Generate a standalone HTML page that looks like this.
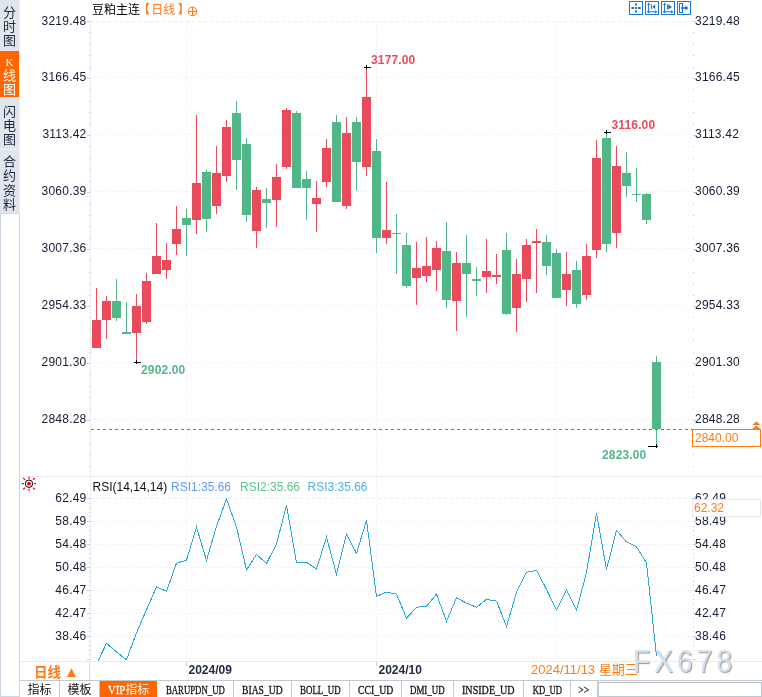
<!DOCTYPE html>
<html lang="zh-CN"><head><meta charset="utf-8"><title>豆粕主连 日线</title>
<style>
html,body{margin:0;padding:0;background:#fff}
body{width:762px;height:697px;overflow:hidden;position:relative;font-family:"Liberation Sans","Noto Sans CJK SC",sans-serif;font-size:12px;color:#151d36}
#c{position:absolute;left:0;top:0;width:762px;height:697px;overflow:hidden;background:#fff}
svg.g{position:absolute;left:0;top:0}
.t{position:absolute;height:16px;line-height:16px;white-space:nowrap;font-size:12px}
.ax{color:#151d36;letter-spacing:.22px}
.b{font-weight:bold}
.side{position:absolute;left:0;top:0;width:19px;height:213px;background:#e1e5ec;border-right:1px solid #eceff4}
.side div{position:absolute;left:0;width:19px;text-align:center;font-family:"Liberation Serif","Noto Sans CJK SC",sans-serif;font-size:13px;line-height:14.2px;color:#1c2a3e}
.side p{position:absolute;left:0;width:19px;margin:0}
.side .on{background:#ff6600;color:#fff}
.sidebox{position:absolute;left:0;top:213px;width:18px;height:482px;border:1px solid #cfd9e3;background:#fff;box-sizing:content-box}
.tabs{position:absolute;left:20px;top:680px;width:742px;height:16px;border-top:1px solid #c4c9cf;background:#fff;font-family:"Liberation Serif","Noto Sans CJK SC",serif}
.tabs div{position:absolute;top:0;height:16px;line-height:16px;display:flex;justify-content:center;align-items:center;border-right:1px solid #c4c9cf;box-sizing:border-box;font-size:12px;color:#111;white-space:nowrap;padding-top:2px}
.tabs .la{display:inline-block;font-size:12px;transform:scaleX(.75);-webkit-text-stroke:.3px currentColor}
.tabs .on{background:#ff6600;color:#fff;border-right:none}
</style></head><body><div id="c">
<div class="side">
<div style="top:0;height:51px"><p style="top:5.5px">分<br>时<br>图</p></div>
<div class="on" style="top:51px;height:46px"><p style="top:3.9px;line-height:13.6px"><span style="font-size:11px">K</span><br>线<br>图</p></div>
<div style="top:97px;height:52px"><p style="top:7.5px">闪<br>电<br>图</p></div>
<div style="top:149px;height:64px;border-top:1px solid #f0f2f6;box-sizing:border-box"><p style="top:5.2px">合<br>约<br>资<br>料</p></div>
</div>
<div class="sidebox"></div>
<svg class="g" width="762" height="697" viewBox="0 0 762 697" shape-rendering="crispEdges">
<line x1="90" y1="21.5" x2="693" y2="21.5" stroke="#e7ecf2" stroke-dasharray="3 3"/>
<line x1="91" y1="77.5" x2="693" y2="77.5" stroke="#e7ecf2" stroke-dasharray="1 2"/>
<line x1="91" y1="134.5" x2="693" y2="134.5" stroke="#e7ecf2" stroke-dasharray="1 2"/>
<line x1="91" y1="191.5" x2="693" y2="191.5" stroke="#e7ecf2" stroke-dasharray="1 2"/>
<line x1="91" y1="248.5" x2="693" y2="248.5" stroke="#e7ecf2" stroke-dasharray="1 2"/>
<line x1="91" y1="305.5" x2="693" y2="305.5" stroke="#e7ecf2" stroke-dasharray="1 2"/>
<line x1="91" y1="362.5" x2="693" y2="362.5" stroke="#e7ecf2" stroke-dasharray="1 2"/>
<line x1="91" y1="419.5" x2="693" y2="419.5" stroke="#e7ecf2" stroke-dasharray="1 2"/>
<line x1="186.5" y1="22" x2="186.5" y2="476" stroke="#e7ecf2" stroke-dasharray="1 2"/>
<line x1="186.5" y1="478" x2="186.5" y2="661" stroke="#e7ecf2" stroke-dasharray="1 2"/>
<line x1="186.5" y1="661" x2="186.5" y2="666" stroke="#c9d3dd"/>
<line x1="376.5" y1="22" x2="376.5" y2="476" stroke="#e7ecf2" stroke-dasharray="1 2"/>
<line x1="376.5" y1="478" x2="376.5" y2="661" stroke="#e7ecf2" stroke-dasharray="1 2"/>
<line x1="376.5" y1="661" x2="376.5" y2="666" stroke="#c9d3dd"/>
<line x1="556.5" y1="22" x2="556.5" y2="476" stroke="#e7ecf2" stroke-dasharray="1 2"/>
<line x1="556.5" y1="478" x2="556.5" y2="661" stroke="#e7ecf2" stroke-dasharray="1 2"/>
<line x1="556.5" y1="661" x2="556.5" y2="666" stroke="#c9d3dd"/>
<line x1="90" y1="498.5" x2="693" y2="498.5" stroke="#e7ecf2" stroke-dasharray="3 3"/>
<line x1="91" y1="521.5" x2="693" y2="521.5" stroke="#e7ecf2" stroke-dasharray="1 2"/>
<line x1="91" y1="544.5" x2="693" y2="544.5" stroke="#e7ecf2" stroke-dasharray="1 2"/>
<line x1="91" y1="567.5" x2="693" y2="567.5" stroke="#e7ecf2" stroke-dasharray="1 2"/>
<line x1="91" y1="590.5" x2="693" y2="590.5" stroke="#e7ecf2" stroke-dasharray="1 2"/>
<line x1="91" y1="613.5" x2="693" y2="613.5" stroke="#e7ecf2" stroke-dasharray="1 2"/>
<line x1="91" y1="636.5" x2="693" y2="636.5" stroke="#e7ecf2" stroke-dasharray="1 2"/>
<line x1="90.5" y1="21" x2="90.5" y2="661" stroke="#e6ecf3"/>
<rect x="87" y="21" width="3" height="1" fill="#c6ced9"/>
<rect x="89" y="32" width="1" height="1" fill="#bfc8d4"/>
<rect x="89" y="44" width="1" height="1" fill="#bfc8d4"/>
<rect x="89" y="55" width="1" height="1" fill="#bfc8d4"/>
<rect x="89" y="67" width="1" height="1" fill="#bfc8d4"/>
<rect x="87" y="78" width="3" height="1" fill="#c6ced9"/>
<rect x="89" y="89" width="1" height="1" fill="#bfc8d4"/>
<rect x="89" y="101" width="1" height="1" fill="#bfc8d4"/>
<rect x="89" y="112" width="1" height="1" fill="#bfc8d4"/>
<rect x="89" y="124" width="1" height="1" fill="#bfc8d4"/>
<rect x="87" y="135" width="3" height="1" fill="#c6ced9"/>
<rect x="89" y="146" width="1" height="1" fill="#bfc8d4"/>
<rect x="89" y="158" width="1" height="1" fill="#bfc8d4"/>
<rect x="89" y="169" width="1" height="1" fill="#bfc8d4"/>
<rect x="89" y="181" width="1" height="1" fill="#bfc8d4"/>
<rect x="87" y="192" width="3" height="1" fill="#c6ced9"/>
<rect x="89" y="203" width="1" height="1" fill="#bfc8d4"/>
<rect x="89" y="215" width="1" height="1" fill="#bfc8d4"/>
<rect x="89" y="226" width="1" height="1" fill="#bfc8d4"/>
<rect x="89" y="238" width="1" height="1" fill="#bfc8d4"/>
<rect x="87" y="249" width="3" height="1" fill="#c6ced9"/>
<rect x="89" y="260" width="1" height="1" fill="#bfc8d4"/>
<rect x="89" y="272" width="1" height="1" fill="#bfc8d4"/>
<rect x="89" y="283" width="1" height="1" fill="#bfc8d4"/>
<rect x="89" y="295" width="1" height="1" fill="#bfc8d4"/>
<rect x="87" y="306" width="3" height="1" fill="#c6ced9"/>
<rect x="89" y="317" width="1" height="1" fill="#bfc8d4"/>
<rect x="89" y="329" width="1" height="1" fill="#bfc8d4"/>
<rect x="89" y="340" width="1" height="1" fill="#bfc8d4"/>
<rect x="89" y="352" width="1" height="1" fill="#bfc8d4"/>
<rect x="87" y="363" width="3" height="1" fill="#c6ced9"/>
<rect x="89" y="374" width="1" height="1" fill="#bfc8d4"/>
<rect x="89" y="386" width="1" height="1" fill="#bfc8d4"/>
<rect x="89" y="397" width="1" height="1" fill="#bfc8d4"/>
<rect x="89" y="409" width="1" height="1" fill="#bfc8d4"/>
<rect x="87" y="420" width="3" height="1" fill="#c6ced9"/>
<rect x="89" y="431" width="1" height="1" fill="#bfc8d4"/>
<rect x="89" y="443" width="1" height="1" fill="#bfc8d4"/>
<rect x="89" y="454" width="1" height="1" fill="#bfc8d4"/>
<rect x="89" y="466" width="1" height="1" fill="#bfc8d4"/>
<rect x="693" y="21" width="3" height="1" fill="#c6ced9"/>
<rect x="693" y="32" width="1" height="1" fill="#bfc8d4"/>
<rect x="693" y="44" width="1" height="1" fill="#bfc8d4"/>
<rect x="693" y="55" width="1" height="1" fill="#bfc8d4"/>
<rect x="693" y="67" width="1" height="1" fill="#bfc8d4"/>
<rect x="693" y="78" width="3" height="1" fill="#c6ced9"/>
<rect x="693" y="89" width="1" height="1" fill="#bfc8d4"/>
<rect x="693" y="101" width="1" height="1" fill="#bfc8d4"/>
<rect x="693" y="112" width="1" height="1" fill="#bfc8d4"/>
<rect x="693" y="124" width="1" height="1" fill="#bfc8d4"/>
<rect x="693" y="135" width="3" height="1" fill="#c6ced9"/>
<rect x="693" y="146" width="1" height="1" fill="#bfc8d4"/>
<rect x="693" y="158" width="1" height="1" fill="#bfc8d4"/>
<rect x="693" y="169" width="1" height="1" fill="#bfc8d4"/>
<rect x="693" y="181" width="1" height="1" fill="#bfc8d4"/>
<rect x="693" y="192" width="3" height="1" fill="#c6ced9"/>
<rect x="693" y="203" width="1" height="1" fill="#bfc8d4"/>
<rect x="693" y="215" width="1" height="1" fill="#bfc8d4"/>
<rect x="693" y="226" width="1" height="1" fill="#bfc8d4"/>
<rect x="693" y="238" width="1" height="1" fill="#bfc8d4"/>
<rect x="693" y="249" width="3" height="1" fill="#c6ced9"/>
<rect x="693" y="260" width="1" height="1" fill="#bfc8d4"/>
<rect x="693" y="272" width="1" height="1" fill="#bfc8d4"/>
<rect x="693" y="283" width="1" height="1" fill="#bfc8d4"/>
<rect x="693" y="295" width="1" height="1" fill="#bfc8d4"/>
<rect x="693" y="306" width="3" height="1" fill="#c6ced9"/>
<rect x="693" y="317" width="1" height="1" fill="#bfc8d4"/>
<rect x="693" y="329" width="1" height="1" fill="#bfc8d4"/>
<rect x="693" y="340" width="1" height="1" fill="#bfc8d4"/>
<rect x="693" y="352" width="1" height="1" fill="#bfc8d4"/>
<rect x="693" y="363" width="3" height="1" fill="#c6ced9"/>
<rect x="693" y="374" width="1" height="1" fill="#bfc8d4"/>
<rect x="693" y="386" width="1" height="1" fill="#bfc8d4"/>
<rect x="693" y="397" width="1" height="1" fill="#bfc8d4"/>
<rect x="693" y="409" width="1" height="1" fill="#bfc8d4"/>
<rect x="693" y="420" width="3" height="1" fill="#c6ced9"/>
<rect x="693" y="431" width="1" height="1" fill="#bfc8d4"/>
<rect x="693" y="443" width="1" height="1" fill="#bfc8d4"/>
<rect x="693" y="454" width="1" height="1" fill="#bfc8d4"/>
<rect x="693" y="466" width="1" height="1" fill="#bfc8d4"/>
<rect x="87" y="498" width="3" height="1" fill="#c6ced9"/>
<rect x="89" y="503" width="1" height="1" fill="#bfc8d4"/>
<rect x="89" y="507" width="1" height="1" fill="#bfc8d4"/>
<rect x="89" y="512" width="1" height="1" fill="#bfc8d4"/>
<rect x="89" y="516" width="1" height="1" fill="#bfc8d4"/>
<rect x="87" y="521" width="3" height="1" fill="#c6ced9"/>
<rect x="89" y="526" width="1" height="1" fill="#bfc8d4"/>
<rect x="89" y="530" width="1" height="1" fill="#bfc8d4"/>
<rect x="89" y="535" width="1" height="1" fill="#bfc8d4"/>
<rect x="89" y="539" width="1" height="1" fill="#bfc8d4"/>
<rect x="87" y="544" width="3" height="1" fill="#c6ced9"/>
<rect x="89" y="549" width="1" height="1" fill="#bfc8d4"/>
<rect x="89" y="553" width="1" height="1" fill="#bfc8d4"/>
<rect x="89" y="558" width="1" height="1" fill="#bfc8d4"/>
<rect x="89" y="562" width="1" height="1" fill="#bfc8d4"/>
<rect x="87" y="567" width="3" height="1" fill="#c6ced9"/>
<rect x="89" y="572" width="1" height="1" fill="#bfc8d4"/>
<rect x="89" y="576" width="1" height="1" fill="#bfc8d4"/>
<rect x="89" y="581" width="1" height="1" fill="#bfc8d4"/>
<rect x="89" y="585" width="1" height="1" fill="#bfc8d4"/>
<rect x="87" y="590" width="3" height="1" fill="#c6ced9"/>
<rect x="89" y="595" width="1" height="1" fill="#bfc8d4"/>
<rect x="89" y="599" width="1" height="1" fill="#bfc8d4"/>
<rect x="89" y="604" width="1" height="1" fill="#bfc8d4"/>
<rect x="89" y="608" width="1" height="1" fill="#bfc8d4"/>
<rect x="87" y="613" width="3" height="1" fill="#c6ced9"/>
<rect x="89" y="618" width="1" height="1" fill="#bfc8d4"/>
<rect x="89" y="622" width="1" height="1" fill="#bfc8d4"/>
<rect x="89" y="627" width="1" height="1" fill="#bfc8d4"/>
<rect x="89" y="631" width="1" height="1" fill="#bfc8d4"/>
<rect x="87" y="636" width="3" height="1" fill="#c6ced9"/>
<rect x="89" y="641" width="1" height="1" fill="#bfc8d4"/>
<rect x="89" y="645" width="1" height="1" fill="#bfc8d4"/>
<rect x="89" y="650" width="1" height="1" fill="#bfc8d4"/>
<rect x="89" y="654" width="1" height="1" fill="#bfc8d4"/>
<rect x="87" y="659" width="3" height="1" fill="#c6ced9"/>
<rect x="693" y="498" width="3" height="1" fill="#c6ced9"/>
<rect x="693" y="503" width="1" height="1" fill="#bfc8d4"/>
<rect x="693" y="507" width="1" height="1" fill="#bfc8d4"/>
<rect x="693" y="512" width="1" height="1" fill="#bfc8d4"/>
<rect x="693" y="516" width="1" height="1" fill="#bfc8d4"/>
<rect x="693" y="521" width="3" height="1" fill="#c6ced9"/>
<rect x="693" y="526" width="1" height="1" fill="#bfc8d4"/>
<rect x="693" y="530" width="1" height="1" fill="#bfc8d4"/>
<rect x="693" y="535" width="1" height="1" fill="#bfc8d4"/>
<rect x="693" y="539" width="1" height="1" fill="#bfc8d4"/>
<rect x="693" y="544" width="3" height="1" fill="#c6ced9"/>
<rect x="693" y="549" width="1" height="1" fill="#bfc8d4"/>
<rect x="693" y="553" width="1" height="1" fill="#bfc8d4"/>
<rect x="693" y="558" width="1" height="1" fill="#bfc8d4"/>
<rect x="693" y="562" width="1" height="1" fill="#bfc8d4"/>
<rect x="693" y="567" width="3" height="1" fill="#c6ced9"/>
<rect x="693" y="572" width="1" height="1" fill="#bfc8d4"/>
<rect x="693" y="576" width="1" height="1" fill="#bfc8d4"/>
<rect x="693" y="581" width="1" height="1" fill="#bfc8d4"/>
<rect x="693" y="585" width="1" height="1" fill="#bfc8d4"/>
<rect x="693" y="590" width="3" height="1" fill="#c6ced9"/>
<rect x="693" y="595" width="1" height="1" fill="#bfc8d4"/>
<rect x="693" y="599" width="1" height="1" fill="#bfc8d4"/>
<rect x="693" y="604" width="1" height="1" fill="#bfc8d4"/>
<rect x="693" y="608" width="1" height="1" fill="#bfc8d4"/>
<rect x="693" y="613" width="3" height="1" fill="#c6ced9"/>
<rect x="693" y="618" width="1" height="1" fill="#bfc8d4"/>
<rect x="693" y="622" width="1" height="1" fill="#bfc8d4"/>
<rect x="693" y="627" width="1" height="1" fill="#bfc8d4"/>
<rect x="693" y="631" width="1" height="1" fill="#bfc8d4"/>
<rect x="693" y="636" width="3" height="1" fill="#c6ced9"/>
<rect x="693" y="641" width="1" height="1" fill="#bfc8d4"/>
<rect x="693" y="645" width="1" height="1" fill="#bfc8d4"/>
<rect x="693" y="650" width="1" height="1" fill="#bfc8d4"/>
<rect x="693" y="654" width="1" height="1" fill="#bfc8d4"/>
<rect x="693" y="659" width="3" height="1" fill="#c6ced9"/>
<rect x="20" y="476" width="742" height="1" fill="#e4ebf1"/>
<rect x="20" y="661" width="742" height="1" fill="#e4ebf1"/>
<rect x="96" y="288" width="1" height="60" fill="#ea4b5c"/>
<rect x="92" y="320" width="9" height="28" fill="#ea4b5c"/>
<rect x="106" y="296" width="1" height="43" fill="#ea4b5c"/>
<rect x="102" y="301" width="9" height="19" fill="#ea4b5c"/>
<rect x="116" y="279" width="1" height="42" fill="#52b788"/>
<rect x="112" y="301" width="9" height="17" fill="#52b788"/>
<rect x="126" y="302" width="1" height="32" fill="#52b788"/>
<rect x="122" y="332" width="9" height="2" fill="#52b788"/>
<rect x="136" y="294" width="1" height="68" fill="#ea4b5c"/>
<rect x="132" y="306" width="9" height="27" fill="#ea4b5c"/>
<rect x="146" y="273" width="1" height="51" fill="#ea4b5c"/>
<rect x="142" y="281" width="9" height="41" fill="#ea4b5c"/>
<rect x="156" y="223" width="1" height="51" fill="#ea4b5c"/>
<rect x="152" y="256" width="9" height="18" fill="#ea4b5c"/>
<rect x="166" y="243" width="1" height="36" fill="#ea4b5c"/>
<rect x="162" y="260" width="9" height="10" fill="#ea4b5c"/>
<rect x="176" y="206" width="1" height="49" fill="#ea4b5c"/>
<rect x="172" y="229" width="9" height="15" fill="#ea4b5c"/>
<rect x="186" y="209" width="1" height="47" fill="#52b788"/>
<rect x="182" y="218" width="9" height="7" fill="#52b788"/>
<rect x="196" y="115" width="1" height="119" fill="#ea4b5c"/>
<rect x="192" y="183" width="9" height="37" fill="#ea4b5c"/>
<rect x="206" y="170" width="1" height="62" fill="#52b788"/>
<rect x="202" y="172" width="9" height="47" fill="#52b788"/>
<rect x="216" y="146" width="1" height="68" fill="#ea4b5c"/>
<rect x="212" y="173" width="9" height="33" fill="#ea4b5c"/>
<rect x="226" y="120" width="1" height="62" fill="#ea4b5c"/>
<rect x="222" y="127" width="9" height="49" fill="#ea4b5c"/>
<rect x="236" y="101" width="1" height="89" fill="#52b788"/>
<rect x="232" y="113" width="9" height="47" fill="#52b788"/>
<rect x="246" y="138" width="1" height="84" fill="#52b788"/>
<rect x="242" y="144" width="9" height="71" fill="#52b788"/>
<rect x="256" y="187" width="1" height="61" fill="#ea4b5c"/>
<rect x="252" y="190" width="9" height="41" fill="#ea4b5c"/>
<rect x="266" y="188" width="1" height="40" fill="#52b788"/>
<rect x="262" y="199" width="9" height="4" fill="#52b788"/>
<rect x="276" y="164" width="1" height="63" fill="#ea4b5c"/>
<rect x="272" y="177" width="9" height="23" fill="#ea4b5c"/>
<rect x="286" y="108" width="1" height="61" fill="#ea4b5c"/>
<rect x="282" y="110" width="9" height="57" fill="#ea4b5c"/>
<rect x="296" y="111" width="1" height="77" fill="#52b788"/>
<rect x="292" y="113" width="9" height="75" fill="#52b788"/>
<rect x="306" y="171" width="1" height="49" fill="#52b788"/>
<rect x="302" y="179" width="9" height="9" fill="#52b788"/>
<rect x="316" y="181" width="1" height="51" fill="#ea4b5c"/>
<rect x="312" y="198" width="9" height="6" fill="#ea4b5c"/>
<rect x="326" y="139" width="1" height="48" fill="#ea4b5c"/>
<rect x="322" y="148" width="9" height="34" fill="#ea4b5c"/>
<rect x="336" y="115" width="1" height="87" fill="#52b788"/>
<rect x="332" y="122" width="9" height="80" fill="#52b788"/>
<rect x="346" y="117" width="1" height="92" fill="#ea4b5c"/>
<rect x="342" y="133" width="9" height="73" fill="#ea4b5c"/>
<rect x="356" y="117" width="1" height="74" fill="#52b788"/>
<rect x="352" y="122" width="9" height="40" fill="#52b788"/>
<rect x="366" y="68" width="1" height="108" fill="#ea4b5c"/>
<rect x="362" y="97" width="9" height="70" fill="#ea4b5c"/>
<rect x="376" y="139" width="1" height="114" fill="#52b788"/>
<rect x="372" y="151" width="9" height="87" fill="#52b788"/>
<rect x="386" y="182" width="1" height="62" fill="#ea4b5c"/>
<rect x="382" y="230" width="9" height="8" fill="#ea4b5c"/>
<rect x="396" y="214" width="1" height="60" fill="#52b788"/>
<rect x="392" y="233" width="9" height="1" fill="#52b788"/>
<rect x="406" y="233" width="1" height="55" fill="#52b788"/>
<rect x="402" y="245" width="9" height="41" fill="#52b788"/>
<rect x="416" y="242" width="1" height="63" fill="#ea4b5c"/>
<rect x="412" y="268" width="9" height="10" fill="#ea4b5c"/>
<rect x="426" y="237" width="1" height="45" fill="#ea4b5c"/>
<rect x="422" y="266" width="9" height="10" fill="#ea4b5c"/>
<rect x="436" y="241" width="1" height="50" fill="#ea4b5c"/>
<rect x="432" y="248" width="9" height="22" fill="#ea4b5c"/>
<rect x="446" y="222" width="1" height="86" fill="#52b788"/>
<rect x="442" y="251" width="9" height="49" fill="#52b788"/>
<rect x="456" y="252" width="1" height="79" fill="#ea4b5c"/>
<rect x="452" y="263" width="9" height="38" fill="#ea4b5c"/>
<rect x="466" y="235" width="1" height="82" fill="#52b788"/>
<rect x="462" y="263" width="9" height="11" fill="#52b788"/>
<rect x="476" y="267" width="1" height="29" fill="#52b788"/>
<rect x="472" y="279" width="9" height="2" fill="#52b788"/>
<rect x="486" y="239" width="1" height="54" fill="#ea4b5c"/>
<rect x="482" y="271" width="9" height="6" fill="#ea4b5c"/>
<rect x="496" y="254" width="1" height="30" fill="#ea4b5c"/>
<rect x="492" y="275" width="9" height="2" fill="#ea4b5c"/>
<rect x="506" y="233" width="1" height="82" fill="#52b788"/>
<rect x="502" y="250" width="9" height="64" fill="#52b788"/>
<rect x="516" y="259" width="1" height="73" fill="#ea4b5c"/>
<rect x="512" y="274" width="9" height="34" fill="#ea4b5c"/>
<rect x="526" y="239" width="1" height="63" fill="#ea4b5c"/>
<rect x="522" y="245" width="9" height="34" fill="#ea4b5c"/>
<rect x="536" y="229" width="1" height="64" fill="#ea4b5c"/>
<rect x="532" y="241" width="9" height="2" fill="#ea4b5c"/>
<rect x="546" y="235" width="1" height="40" fill="#52b788"/>
<rect x="542" y="242" width="9" height="24" fill="#52b788"/>
<rect x="556" y="249" width="1" height="49" fill="#52b788"/>
<rect x="552" y="253" width="9" height="45" fill="#52b788"/>
<rect x="566" y="252" width="1" height="54" fill="#ea4b5c"/>
<rect x="562" y="274" width="9" height="16" fill="#ea4b5c"/>
<rect x="576" y="261" width="1" height="47" fill="#52b788"/>
<rect x="572" y="270" width="9" height="34" fill="#52b788"/>
<rect x="586" y="244" width="1" height="56" fill="#ea4b5c"/>
<rect x="582" y="256" width="9" height="39" fill="#ea4b5c"/>
<rect x="596" y="140" width="1" height="118" fill="#ea4b5c"/>
<rect x="592" y="158" width="9" height="92" fill="#ea4b5c"/>
<rect x="606" y="133" width="1" height="119" fill="#52b788"/>
<rect x="602" y="138" width="9" height="106" fill="#52b788"/>
<rect x="616" y="146" width="1" height="102" fill="#ea4b5c"/>
<rect x="612" y="166" width="9" height="67" fill="#ea4b5c"/>
<rect x="626" y="152" width="1" height="45" fill="#52b788"/>
<rect x="622" y="173" width="9" height="13" fill="#52b788"/>
<rect x="636" y="168" width="1" height="34" fill="#52b788"/>
<rect x="632" y="194" width="9" height="1" fill="#52b788"/>
<rect x="646" y="193" width="1" height="31" fill="#52b788"/>
<rect x="642" y="194" width="9" height="26" fill="#52b788"/>
<rect x="656" y="356" width="1" height="91" fill="#52b788"/>
<rect x="652" y="362" width="9" height="67" fill="#52b788"/>
<line x1="91" y1="429.5" x2="693" y2="429.5" stroke="#1a8cff" stroke-dasharray="3 3"/>
<rect x="364" y="67" width="7" height="1" fill="#000"/>
<rect x="366" y="65" width="1" height="4" fill="#000"/>
<rect x="604" y="132" width="7" height="1" fill="#000"/>
<rect x="606" y="130" width="1" height="4" fill="#000"/>
<rect x="134" y="362" width="7" height="1" fill="#000"/>
<rect x="136" y="360" width="1" height="4" fill="#000"/>
<rect x="648" y="446" width="10" height="1" fill="#000"/>
<rect x="656" y="444" width="1" height="4" fill="#000"/>
<clipPath id="rc"><rect x="91" y="478" width="602" height="183"/></clipPath>
<polyline clip-path="url(#rc)" points="96.5,664.0 106.5,643.3 116.5,652.0 126.5,659.8 136.5,632.8 146.5,609.8 156.5,586.8 166.5,591.4 176.5,563.2 186.5,560.2 196.5,527.2 206.5,560.4 216.5,526.2 226.5,499.2 236.5,527.0 246.5,569.9 256.5,554.4 266.5,563.4 276.5,544.1 286.5,505.4 296.5,562.4 306.5,562.4 316.5,569.1 326.5,537.1 336.5,574.3 346.5,534.4 356.5,553.4 366.5,520.4 376.5,596.3 386.5,592.1 396.5,594.1 406.5,618.3 416.5,607.3 426.5,606.3 436.5,594.1 446.5,621.3 456.5,597.8 466.5,603.1 476.5,607.3 486.5,599.3 496.5,601.1 506.5,626.5 516.5,592.3 526.5,572.3 536.5,570.3 546.5,589.3 556.5,610.3 566.5,590.3 576.5,610.3 586.5,572.3 596.5,513.4 606.5,569.4 616.5,530.4 626.5,541.9 636.5,546.9 646.5,562.9 656.5,656.0" fill="none" stroke="#29a8e0" stroke-width="1" shape-rendering="crispEdges"/>
</svg>
<svg class="g" width="762" height="697" viewBox="0 0 762 697" style="z-index:5">
<rect x="629.5" y="1.5" width="13" height="13" fill="#fff" stroke="#1b76d0" shape-rendering="crispEdges"/>
<rect x="645.5" y="1.5" width="13" height="13" fill="#fff" stroke="#1b76d0" shape-rendering="crispEdges"/>
<rect x="661.5" y="1.5" width="13" height="13" fill="#fff" stroke="#1b76d0" shape-rendering="crispEdges"/>
<rect x="677.5" y="1.5" width="13" height="13" fill="#fff" stroke="#1b76d0" shape-rendering="crispEdges"/>
<rect x="635" y="7" width="2" height="2" fill="#1b76d0"/>
<rect x="635" y="3.4" width="2" height="2" fill="#1b76d0"/>
<rect x="635" y="10.4" width="2" height="2" fill="#1b76d0"/>
<rect x="631.5" y="7" width="2.5" height="2" fill="#1b76d0"/>
<rect x="638" y="7" width="2.7" height="2" fill="#1b76d0"/>
<path d="M648.6 3.2V12.9M647 11.8H657" stroke="#1b76d0" stroke-width="1" fill="none"/><path d="M647.0 5L648.6 2.6L650.2 5Z M655 10.200000000000001L657.4 11.8L655 13.4Z M647.3000000000001 11.2L648.6 13.2L649.9 11.2Z M649 10.5L647 11.8L649 13.100000000000001Z" fill="#1b76d0"/>
<rect x="650.9" y="4.3" width="1" height="5" fill="#1b76d0"/><path d="M655.2 4.3V9.3L652.2 6.8Z" fill="#1b76d0"/>
<path d="M664.6 3.2V12.9M663 11.8H673" stroke="#1b76d0" stroke-width="1" fill="none"/><path d="M663.0 5L664.6 2.6L666.2 5Z M671 10.200000000000001L673.4 11.8L671 13.4Z M663.3000000000001 11.2L664.6 13.2L665.9 11.2Z M665 10.5L663 11.8L665 13.100000000000001Z" fill="#1b76d0"/>
<rect x="667.1" y="4.3" width="1" height="5.2" fill="#1b76d0"/><path d="M668.1 4.2V9.6L672 6.9Z" fill="#1b76d0"/>
<rect x="679.5" y="3.5" width="3" height="9" fill="none" stroke="#1b76d0" stroke-width="1" shape-rendering="crispEdges"/>
<rect x="681" y="7.2" width="5" height="1.6" fill="#1b76d0"/><path d="M685.3 5.4L688.6 8L685.3 10.6Z" fill="#1b76d0"/>
<g stroke="#ff7a14" fill="none" stroke-width="1"><circle cx="192.5" cy="11.4" r="4.3"/><path d="M188.2 11.4H196.8M192.5 7.1V15.7"/></g>
<circle cx="29" cy="483.7" r="3.7" fill="#fff" stroke="#000" stroke-width="1"/><circle cx="29" cy="483.7" r="1.9" fill="#f00"/>
<path d="M34.00 483.70L36.00 483.70M32.96 487.66L34.80 489.50M29.00 488.70L29.00 490.70M25.04 487.66L23.20 489.50M24.00 483.70L22.00 483.70M25.04 479.74L23.20 477.90M29.00 478.70L29.00 476.70M32.96 479.74L34.80 477.90" stroke="#f00" stroke-width="1.3" fill="none"/>
<path d="M752.3 425L756.3 421.2L760.3 425Z M752.3 429L756.3 425.3L760.3 429Z" fill="#ff7d10"/>
</svg>
<div class="t ax" style="right:675.5px;top:13px;">3219.48</div>
<div class="t ax" style="left:695px;top:13px;">3219.48</div>
<div class="t ax" style="right:675.5px;top:69px;">3166.45</div>
<div class="t ax" style="left:695px;top:69px;">3166.45</div>
<div class="t ax" style="right:675.5px;top:126px;">3113.42</div>
<div class="t ax" style="left:695px;top:126px;">3113.42</div>
<div class="t ax" style="right:675.5px;top:183px;">3060.39</div>
<div class="t ax" style="left:695px;top:183px;">3060.39</div>
<div class="t ax" style="right:675.5px;top:240px;">3007.36</div>
<div class="t ax" style="left:695px;top:240px;">3007.36</div>
<div class="t ax" style="right:675.5px;top:297px;">2954.33</div>
<div class="t ax" style="left:695px;top:297px;">2954.33</div>
<div class="t ax" style="right:675.5px;top:354px;">2901.30</div>
<div class="t ax" style="left:695px;top:354px;">2901.30</div>
<div class="t ax" style="right:675.5px;top:411px;">2848.28</div>
<div class="t ax" style="left:695px;top:411px;">2848.28</div>
<div class="t ax" style="right:675.5px;top:490px;">62.49</div>
<div class="t ax" style="left:695px;top:490px;">62.49</div>
<div class="t ax" style="right:675.5px;top:513px;">58.49</div>
<div class="t ax" style="left:695px;top:513px;">58.49</div>
<div class="t ax" style="right:675.5px;top:536px;">54.48</div>
<div class="t ax" style="left:695px;top:536px;">54.48</div>
<div class="t ax" style="right:675.5px;top:559px;">50.48</div>
<div class="t ax" style="left:695px;top:559px;">50.48</div>
<div class="t ax" style="right:675.5px;top:582px;">46.47</div>
<div class="t ax" style="left:695px;top:582px;">46.47</div>
<div class="t ax" style="right:675.5px;top:605px;">42.47</div>
<div class="t ax" style="left:695px;top:605px;">42.47</div>
<div class="t ax" style="right:675.5px;top:628px;">38.46</div>
<div class="t ax" style="left:695px;top:628px;">38.46</div>
<div class="t" style="left:92px;top:2px;color:#000">豆粕主连<span style="color:#ff7a14;margin-left:-2px">【<span style="margin-left:1.2px">日线</span><span style="margin-left:2.5px">】</span></span></div>
<div class="t b" style="left:371px;top:52px;letter-spacing:.15px;color:#ea4b5c">3177.00</div>
<div class="t b" style="left:611.5px;top:117px;letter-spacing:.15px;color:#ea4b5c">3116.00</div>
<div class="t b" style="left:141px;top:362px;letter-spacing:.15px;color:#52b788">2902.00</div>
<div class="t b" style="left:602px;top:447px;letter-spacing:.15px;color:#52b788">2823.00</div>
<div style="position:absolute;left:692px;top:429px;width:67px;height:16px;border:1px solid #ff7d10;background:#fff"></div>
<div class="t" style="left:695px;top:430px;color:#ff7d10">2840.00</div>
<div style="position:absolute;left:692px;top:499px;width:67px;height:16px;border:1px solid #e5e9ee;background:#fff"></div>
<div class="t" style="left:694px;top:500px;color:#ff7d10">62.32</div>
<div class="t" style="left:92.5px;top:479px;color:#111">RSI(14,14,14)</div>
<div class="t" style="left:171px;top:479px;color:#5b9df5">RSI1:35.66</div>
<div class="t" style="left:240px;top:479px;color:#5cc38b">RSI2:35.66</div>
<div class="t" style="left:307.5px;top:479px;color:#4db1e6">RSI3:35.66</div>
<div class="t b" style="left:188.5px;top:662px;color:#222c44">2024/09</div>
<div class="t b" style="left:378.5px;top:662px;color:#222c44">2024/10</div>
<div class="t" style="left:531px;top:662px;color:#ff7d10;background:#fff;font-size:13px">2024/11/13 星期三</div>
<div style="position:absolute;left:20px;top:662px;width:69px;height:18px;border-right:1px solid #d3dae2;background:#fff"></div>
<div class="t b" style="left:34px;top:663px;color:#ff7a14;font-size:13.5px;height:18px;line-height:18px">日线<span style="font-size:15px;margin-left:3px;position:relative;top:0px">▲</span></div>
<div class="t" style="left:632.8px;top:644px;height:36px;line-height:36px;font-size:31px;letter-spacing:4.7px;color:#d3e1f1;text-shadow:1px 1px 1px rgba(125,105,85,.7);transform:scaleX(.9);transform-origin:0 0">FX678</div>
<div class="tabs">
<div style="left:0;width:40px">指标</div>
<div style="left:40px;width:40px">模板</div>
<div class="on" style="left:80px;width:57px"><span class="la" style="margin:0 -1px;transform:scaleX(.89)">VIP</span>指标</div>
<div style="left:137px;width:77px"><span class="la" style="transform:scaleX(0.73)">BARUPDN_UD</span></div>
<div style="left:214px;width:58px"><span class="la" style="transform:scaleX(0.8)">BIAS_UD</span></div>
<div style="left:272px;width:58px"><span class="la" style="transform:scaleX(0.745)">BOLL_UD</span></div>
<div style="left:330px;width:52px"><span class="la" style="transform:scaleX(0.81)">CCI_UD</span></div>
<div style="left:382px;width:52px"><span class="la" style="transform:scaleX(0.745)">DMI_UD</span></div>
<div style="left:434px;width:70px"><span class="la" style="transform:scaleX(0.84)">INSIDE_UD</span></div>
<div style="left:504px;width:47px"><span class="la" style="transform:scaleX(0.72)">KD_UD</span></div>
<div style="left:551px;width:27px"><span class="la" style="transform:scaleX(0.8)">&gt;&gt;</span></div>
<div style="left:578px;width:164px;border:1px solid #c2c8cf;border-top-color:#b4bbc3;height:15px;top:1px"></div>
</div>
</div></body></html>
